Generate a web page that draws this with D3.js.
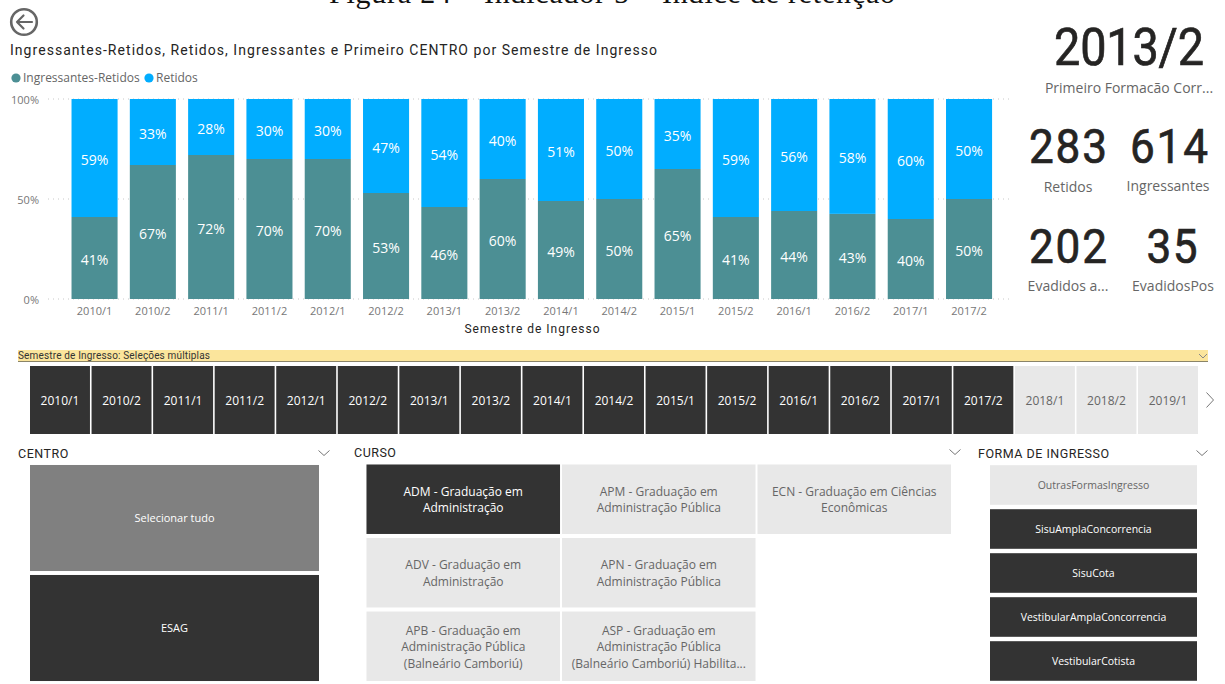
<!DOCTYPE html>
<html lang="pt">
<head>
<meta charset="utf-8">
<title>Índice de retenção</title>
<script src="https://cdn.jsdelivr.net/npm/d3@7"></script>
<style>
  html, body { margin: 0; padding: 0; background: #fff; overflow: hidden; }
  svg { display: block; }
  text { font-family: "Open Sans", sans-serif; }
  .din { font-family: Roboto, sans-serif; }
</style>
</head>
<body>
<div id="chart"></div>
<script>
// Semesters and percentages of the stacked columns
const semesters = ["2010/1","2010/2","2011/1","2011/2","2012/1","2012/2","2013/1","2013/2","2014/1","2014/2","2015/1","2015/2","2016/1","2016/2","2017/1","2017/2"];
const ingressantesRetidos = [41,67,72,70,70,53,46,60,49,50,65,41,44,43,40,50];
const retidos = [59,33,28,30,30,47,54,40,51,50,35,59,56,58,60,50];
const percentTicks = [0,50,100];

// Slicer contents
const slicerSemesters = semesters.concat(["2018/1","2018/2","2019/1"]);
const cursoTiles = [
  ["ADM - Graduação em","Administração"],
  ["APM - Graduação em","Administração Pública"],
  ["ECN - Graduação em Ciências","Econômicas"],
  ["ADV - Graduação em","Administração"],
  ["APN - Graduação em","Administração Pública"],
  null,
  ["APB - Graduação em","Administração Pública","(Balneário Camboriú)"],
  ["ASP - Graduação em","Administração Pública","(Balneário Camboriú) Habilita..."],
  null
];
const cursoSelected = ["ADM - Graduação em"];
const formaTiles = ["OutrasFormasIngresso","SisuAmplaConcorrencia","SisuCota","VestibularAmplaConcorrencia","VestibularCotista"];
const formaSelected = ["SisuAmplaConcorrencia","SisuCota","VestibularAmplaConcorrencia","VestibularCotista"];
const centroTiles = ["Selecionar tudo","ESAG"];

const COLORS = { teal: "#4c8f94", blue: "#01adff", dark: "#333333", light: "#e8e8e8", mid: "#808080", ink: "#252423", grey: "#666666", tick: "#777777" };

const svg = d3.select("#chart").append("svg").attr("width", 1225).attr("height", 684);

// Caption clipped by the top edge of the page
svg.append("text").attr("x", 612).attr("y", 3).attr("text-anchor", "middle")
  .attr("textLength", 566).attr("lengthAdjust", "spacing")
  .style("font-family", "'Liberation Serif', serif").style("font-size", "30px").attr("fill", "#111")
  .text("Figura 24 – Indicador 5 – Índice de retenção");

// Back button
const back = svg.append("g").attr("fill", "none").attr("stroke", "#666").attr("stroke-linecap", "round").attr("stroke-linejoin", "round");
back.append("circle").attr("cx", 24).attr("cy", 22).attr("r", 12.8).attr("stroke-width", 2.6);
back.append("path").attr("d", "M17 22H32M23.5 15.5L17 22L23.5 28.5").attr("stroke-width", 2.2);

// Chart title
svg.append("text").attr("class", "din").attr("x", 10).attr("y", 55)
  .attr("textLength", 647).attr("lengthAdjust", "spacing")
  .style("font-size", "14px").attr("fill", COLORS.ink)
  .text("Ingressantes-Retidos, Retidos, Ingressantes e Primeiro CENTRO por Semestre de Ingresso");

// Legend
const legend = svg.append("g").style("font-size", "12px");
[["Ingressantes-Retidos", COLORS.teal, 16], ["Retidos", COLORS.blue, 149]].forEach(([label, color, cx]) => {
  legend.append("circle").attr("cx", cx).attr("cy", 78).attr("r", 4.6).attr("fill", color);
  legend.append("text").attr("x", cx + 7).attr("y", 82).attr("fill", COLORS.grey).text(label);
});

// Scales for the stacked columns; each column fills the full 100 %
const x = d3.scaleBand().domain(semesters).range([65.4, 998.2]).paddingInner(0.21).paddingOuter(0.105);
const y = d3.scaleLinear().domain([0, 100]).range([299, 99]);

// Dotted gridlines
svg.append("g").selectAll("line").data(percentTicks).join("line")
  .attr("x1", 48).attr("x2", 1012).attr("y1", d => y(d)).attr("y2", d => y(d))
  .attr("stroke", "#c8c8c8").attr("stroke-width", 1).attr("stroke-dasharray", "1 4");

// Stacked columns, normalised per semester because the rounded shares can sum to 101
const rows = semesters.map((s, i) => ({ semester: s, ingressantesRetidos: ingressantesRetidos[i], retidos: retidos[i] }));
const stack = d3.stack().keys(["ingressantesRetidos", "retidos"]).offset(d3.stackOffsetExpand)(rows);
const seriesColor = { ingressantesRetidos: COLORS.teal, retidos: COLORS.blue };
stack.forEach(layer => {
  const g = svg.append("g");
  const top = d => y(d[1] * 100), bottom = d => y(d[0] * 100);
  g.selectAll("rect").data(layer).join("rect")
    .attr("x", d => x(d.data.semester)).attr("width", x.bandwidth())
    .attr("y", top).attr("height", d => bottom(d) - top(d))
    .attr("fill", seriesColor[layer.key]);
  g.selectAll("text").data(layer).join("text")
    .attr("x", d => x(d.data.semester) + x.bandwidth() / 2)
    .attr("y", d => (top(d) + bottom(d)) / 2 + 6.5)
    .attr("text-anchor", "middle").attr("fill", "#fff").style("font-size", "14px")
    .text(d => d.data[layer.key] + "%");
});

// Axes
const xAxis = svg.append("g").attr("transform", "translate(0,299)").call(d3.axisBottom(x).tickSize(0).tickPadding(8));
xAxis.select(".domain").remove();
xAxis.selectAll("text").style("font-family", "'Open Sans', sans-serif").style("font-size", "11px").attr("fill", COLORS.tick);
const yAxis = svg.append("g").attr("transform", "translate(39,0.5)").call(d3.axisLeft(y).tickValues(percentTicks).tickSize(0).tickPadding(0).tickFormat(d => d + "%"));
yAxis.select(".domain").remove();
yAxis.selectAll("text").style("font-family", "'Open Sans', sans-serif").style("font-size", "11px").attr("fill", COLORS.tick);

svg.append("text").attr("class", "din").attr("x", 532).attr("y", 333).attr("text-anchor", "middle")
  .attr("textLength", 135).attr("lengthAdjust", "spacing")
  .style("font-size", "12px").attr("fill", COLORS.ink).text("Semestre de Ingresso");

// KPI cards: slightly narrowed digits set with open tracking
const KPI_SQUEEZE = 0.9;
function kpi(value, label, vx, vy, vw, size, lx, ly) {
  svg.append("text").attr("class", "din")
    .attr("transform", `translate(${vx},${vy}) scale(${KPI_SQUEEZE},1)`)
    .attr("text-anchor", "middle")
    .attr("textLength", vw / KPI_SQUEEZE).attr("lengthAdjust", "spacing")
    .style("font-size", size + "px").attr("fill", COLORS.ink)
    .attr("stroke", COLORS.ink).attr("stroke-width", 0.7).text(value);
  svg.append("text").attr("x", lx).attr("y", ly).attr("text-anchor", "middle")
    .style("font-size", "14px").attr("fill", COLORS.grey).text(label);
}
kpi("2013/2", "Primeiro Formacão Corr...", 1129, 65, 150, 52, 1129, 93);
kpi("283", "Retidos", 1068, 163, 78, 49, 1068, 192);
kpi("614", "Ingressantes", 1169, 163, 78, 49, 1168, 191);
kpi("202", "Evadidos a...", 1068, 263, 78, 49, 1068, 291);
kpi("35", "EvadidosPos", 1172, 263, 51, 49, 1173, 291);

// Filter banner
svg.append("rect").attr("x", 18).attr("y", 350).attr("width", 1190).attr("height", 11).attr("fill", "#fbe59c");
svg.append("line").attr("x1", 18).attr("x2", 1208).attr("y1", 361.5).attr("y2", 361.5).attr("stroke", "#8a8468");
svg.append("text").attr("class", "din").attr("x", 18).attr("y", 359).attr("textLength", 192).attr("lengthAdjust", "spacing")
  .style("font-size", "10px").attr("fill", "#333")
  .text("Semestre de Ingresso: Seleções múltiplas");

function chevron(cx, cy, w, h, color, dir) {
  const pts = dir === "right"
    ? [[cx - h / 2, cy - w / 2], [cx + h / 2, cy], [cx - h / 2, cy + w / 2]]
    : [[cx - w / 2, cy - h / 2], [cx, cy + h / 2], [cx + w / 2, cy - h / 2]];
  svg.append("path").attr("d", d3.line()(pts)).attr("fill", "none").attr("stroke", color).attr("stroke-width", 1);
}
chevron(1203, 356, 8, 4, "#888", "down");

// Semester slicer
const sx = d3.scaleBand().domain(slicerSemesters).range([29.2, 1198.8]).paddingInner(0.026).paddingOuter(0.013);
const semTiles = svg.append("g").selectAll("g").data(slicerSemesters).join("g");
semTiles.append("rect").attr("x", d => sx(d)).attr("y", 366).attr("width", sx.bandwidth()).attr("height", 68)
  .attr("fill", d => semesters.includes(d) ? COLORS.dark : COLORS.light);
semTiles.append("text").attr("x", d => sx(d) + sx.bandwidth() / 2).attr("y", 405).attr("text-anchor", "middle")
  .style("font-size", "12px").attr("fill", d => semesters.includes(d) ? "#fff" : COLORS.grey).text(d => d);
chevron(1210, 400, 15, 7, "#777", "right");

// Slicer headings
[["CENTRO", 18, 458, 324], ["CURSO", 354, 457, 955], ["FORMA DE INGRESSO", 978, 458, 1202]].forEach(([t, tx, ty, cx]) => {
  svg.append("text").attr("class", "din").attr("x", tx).attr("y", ty)
    .style("font-size", "12.5px").style("letter-spacing", "0.5px").attr("fill", COLORS.ink).text(t);
  chevron(cx, ty - 5, 11, 5, "#777", "down");
});

// Draws one tile with centred lines of text
function tile(g, tx, ty, w, h, fill, color, lines, size, leading) {
  g.append("rect").attr("x", tx).attr("y", ty).attr("width", w).attr("height", h).attr("fill", fill);
  const top = ty + h / 2 - (lines.length - 1) * leading / 2 + size * 0.36 + 0.5;
  lines.forEach((l, i) => g.append("text").attr("x", tx + w / 2).attr("y", top + i * leading)
    .attr("text-anchor", "middle").style("font-size", size + "px").attr("fill", color).text(l));
}

// Centro slicer
const cy = d3.scaleBand().domain(centroTiles).range([463, 683]).paddingInner(0.036).paddingOuter(0.018);
const centroG = svg.append("g");
centroTiles.forEach((t, i) => tile(centroG, 30, cy(t), 289, cy.bandwidth(), i === 0 ? COLORS.mid : COLORS.dark, "#fff", [t], 11, 0));

// Curso slicer
const colX = d3.scaleBand().domain(d3.range(3)).range([365.5, 952]).paddingInner(0.01).paddingOuter(0.005);
const rowY = d3.scaleBand().domain(d3.range(3)).range([462.5, 683]).paddingInner(0.055).paddingOuter(0.027);
const cursoG = svg.append("g");
cursoTiles.forEach((lines, i) => {
  if (!lines) return;
  const on = cursoSelected.includes(lines[0]);
  tile(cursoG, colX(i % 3), rowY(Math.floor(i / 3)), colX.bandwidth(), rowY.bandwidth(),
    on ? COLORS.dark : COLORS.light, on ? "#fff" : COLORS.grey, lines, 12, 16.5);
});

// Forma de ingresso slicer
const fy = d3.scaleBand().domain(formaTiles).range([463, 683]).paddingInner(0.1).paddingOuter(0.05);
const formaG = svg.append("g");
formaTiles.forEach(t => {
  const on = formaSelected.includes(t);
  tile(formaG, 990, fy(t), 207, fy.bandwidth(), on ? COLORS.dark : COLORS.light, on ? "#fff" : COLORS.grey, [t], 10.5, 0);
});
</script>
</body>
</html>
